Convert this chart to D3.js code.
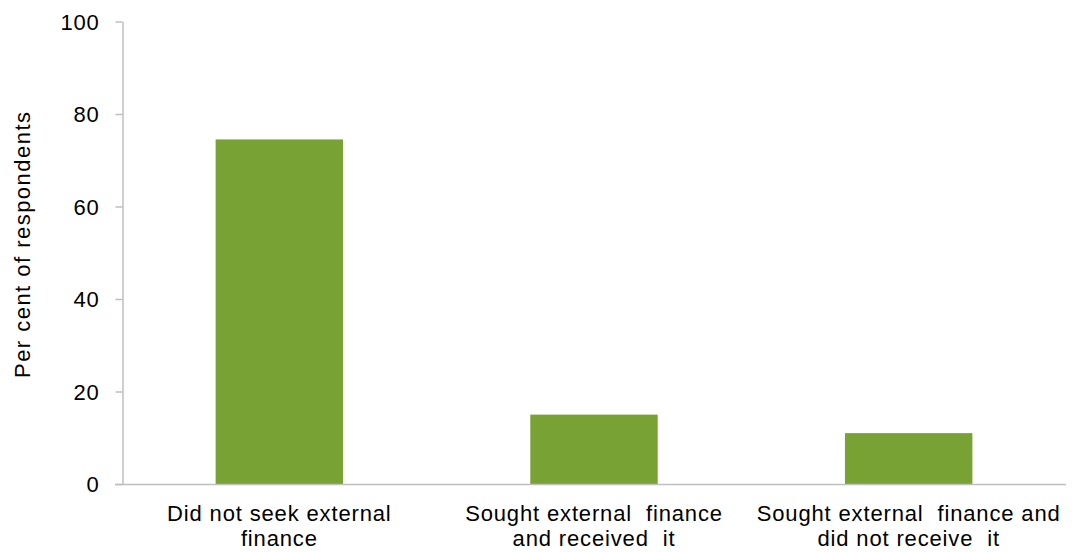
<!DOCTYPE html>
<html><head><meta charset="utf-8">
<script src="https://cdn.jsdelivr.net/npm/d3@7"></script>
<style>body{margin:0;background:#fff}svg{display:block}text{font-family:"Liberation Sans",Arial,sans-serif;fill:#000}</style>
</head><body><svg id="c" width="1072" height="552"></svg>
<script>
const categories = [["Did not seek external","finance"],["Sought external  finance","and received  it"],["Sought external  finance and","did not receive  it"]];
const values = [74.5, 15, 11];
const yTicks = [0, 20, 40, 60, 80, 100];

const svg = d3.select("#c");
const m = {l:122, r:1066, t:21.5, b:484};
const x = d3.scaleBand().domain(d3.range(categories.length)).range([m.l, m.r]).paddingInner(0.595).paddingOuter(0.2975);
const y = d3.scaleLinear().domain([0,100]).range([m.b, m.t]);

svg.selectAll("rect.bar").data(values).join("rect").attr("class","bar")
  .attr("x",(d,i)=>x(i)).attr("width",x.bandwidth())
  .attr("y",d=>y(d)).attr("height",d=>y(0)-y(d)).attr("fill","#79A234");

const ya = svg.append("g").attr("transform",`translate(${m.l+0.5},0)`)
  .call(d3.axisLeft(y).tickValues(yTicks).tickSize(7).tickPadding(16).tickSizeOuter(0));
ya.select(".domain").attr("stroke","#BFBFBF").attr("stroke-width",1.5);
ya.selectAll(".tick line").attr("stroke","#BFBFBF").attr("stroke-width",1.5);
ya.selectAll(".tick text").style("font-size","22px").style("letter-spacing","0.8px").attr("dy","0.36em");

svg.append("line").attr("x1",m.l-7).attr("x2",m.r).attr("y1",y(0)+0.5).attr("y2",y(0)+0.5)
  .attr("stroke","#BFBFBF").attr("stroke-width",1.5);

const xl = svg.append("g");
categories.forEach((lines,i)=>{
  const cx = x(i)+x.bandwidth()/2;
  lines.forEach((s,k)=>xl.append("text").attr("x",cx).attr("y",521+k*24.5)
    .attr("text-anchor","middle").style("font-size","22px").style("letter-spacing","0.85px").style("white-space","pre").text(s));
});

svg.append("text").attr("transform","translate(30,245) rotate(-90)").attr("text-anchor","middle")
  .style("font-size","22px").attr("textLength",266).attr("lengthAdjust","spacing").text("Per cent of respondents");
</script></body></html>
